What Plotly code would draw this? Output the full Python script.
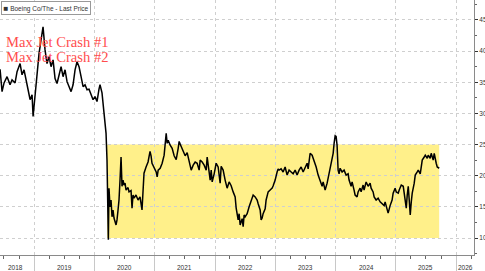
import plotly.graph_objects as go
import pandas as pd

# ---- data (decimal years, price) ----
year_frac = [
    2018.431, 2018.464, 2018.497, 2018.547, 2018.597, 2018.630, 2018.680, 2018.713, 2018.763, 2018.796,
    2018.829, 2018.863, 2018.896, 2018.929, 2018.962, 2018.979, 2019.012, 2019.045, 2019.078, 2019.112,
    2019.145, 2019.178, 2019.211, 2019.244, 2019.278, 2019.311, 2019.344, 2019.377, 2019.410, 2019.444,
    2019.477, 2019.510, 2019.543, 2019.576, 2019.610, 2019.643, 2019.676, 2019.709, 2019.742, 2019.776,
    2019.809, 2019.842, 2019.875, 2019.908, 2019.942, 2019.975, 2020.008, 2020.041, 2020.074, 2020.091,
    2020.124, 2020.141, 2020.157, 2020.174, 2020.191, 2020.207, 2020.216, 2020.229, 2020.240, 2020.257,
    2020.274, 2020.290, 2020.307, 2020.323, 2020.357, 2020.373, 2020.390, 2020.406, 2020.423, 2020.440,
    2020.456, 2020.473, 2020.489, 2020.506, 2020.523, 2020.556, 2020.572, 2020.606, 2020.622, 2020.639,
    2020.655, 2020.688, 2020.722, 2020.755, 2020.788, 2020.805, 2020.821, 2020.855, 2020.888, 2020.921,
    2020.938, 2020.954, 2020.987, 2021.021, 2021.037, 2021.054, 2021.087, 2021.120, 2021.153, 2021.187,
    2021.203, 2021.220, 2021.253, 2021.286, 2021.319, 2021.353, 2021.386, 2021.402, 2021.436, 2021.469,
    2021.502, 2021.535, 2021.568, 2021.602, 2021.635, 2021.668, 2021.701, 2021.734, 2021.751, 2021.784,
    2021.817, 2021.851, 2021.867, 2021.884, 2021.917, 2021.934, 2021.950, 2021.983, 2022.017, 2022.050,
    2022.083, 2022.100, 2022.133, 2022.166, 2022.199, 2022.232, 2022.266, 2022.299, 2022.332, 2022.349,
    2022.365, 2022.382, 2022.398, 2022.415, 2022.432, 2022.448, 2022.465, 2022.481, 2022.498, 2022.531,
    2022.564, 2022.597, 2022.631, 2022.664, 2022.697, 2022.714, 2022.747, 2022.763, 2022.780, 2022.796,
    2022.830, 2022.846, 2022.880, 2022.913, 2022.946, 2022.963, 2022.996, 2023.029, 2023.046, 2023.062,
    2023.095, 2023.129, 2023.162, 2023.195, 2023.228, 2023.262, 2023.295, 2023.328, 2023.361, 2023.394,
    2023.428, 2023.461, 2023.494, 2023.527, 2023.544, 2023.577, 2023.610, 2023.643, 2023.677, 2023.710,
    2023.743, 2023.776, 2023.793, 2023.809, 2023.826, 2023.859, 2023.892, 2023.925, 2023.959, 2023.975,
    2023.992, 2024.009, 2024.025, 2024.042, 2024.058, 2024.075, 2024.108, 2024.141, 2024.175, 2024.208,
    2024.224, 2024.258, 2024.274, 2024.307, 2024.324, 2024.357, 2024.374, 2024.407, 2024.424, 2024.457,
    2024.473, 2024.507, 2024.540, 2024.573, 2024.590, 2024.623, 2024.640, 2024.673, 2024.706, 2024.739,
    2024.773, 2024.806, 2024.822, 2024.855, 2024.872, 2024.905, 2024.938, 2024.955, 2024.988, 2025.005,
    2025.038, 2025.054, 2025.088, 2025.121, 2025.137, 2025.154, 2025.171, 2025.187, 2025.204, 2025.220,
    2025.237, 2025.254, 2025.270, 2025.303, 2025.320, 2025.353, 2025.370, 2025.403, 2025.420, 2025.436,
    2025.469, 2025.486, 2025.519, 2025.535, 2025.568, 2025.585, 2025.618, 2025.635, 2025.668, 2025.685,
    2025.718,
]
price = [
    37.1, 33.5, 34.9, 35.9, 34.6, 35.4, 34.9, 36.7, 38.0, 36.2,
    37.0, 35.1, 33.8, 32.2, 33.0, 29.5, 32.7, 37.0, 39.6, 41.8,
    43.9, 40.2, 38.0, 39.1, 37.5, 38.6, 35.6, 34.8, 36.4, 37.5,
    35.9, 37.0, 35.1, 34.3, 33.5, 34.6, 37.0, 38.3, 37.5, 35.9,
    34.3, 34.6, 33.8, 33.9, 33.0, 32.2, 32.7, 31.9, 33.9, 34.6,
    33.3, 31.7, 31.1, 29.5, 26.8, 22.5, 16.0, 9.7, 18.0, 15.0,
    16.1, 13.4, 14.5, 13.2, 12.1, 12.9, 14.5, 16.1, 19.3, 23.0,
    18.3, 19.3, 18.5, 18.8, 17.7, 18.1, 17.4, 17.6, 14.8, 16.9,
    16.4, 16.9, 16.1, 16.6, 14.5, 17.7, 20.4, 21.4, 22.2, 23.9,
    23.2, 22.0, 21.4, 20.6, 19.8, 20.9, 21.2, 22.0, 23.3, 26.8,
    25.2, 25.7, 24.9, 24.4, 23.2, 22.6, 24.4, 25.5, 24.7, 24.0,
    23.2, 23.7, 22.0, 20.9, 21.7, 22.2, 22.0, 20.9, 22.5, 22.2,
    21.7, 20.9, 23.0, 21.4, 19.3, 20.9, 19.0, 20.3, 22.0, 21.4,
    18.8, 21.5, 20.9, 19.3, 18.0, 19.0, 18.4, 17.4, 16.6, 14.8,
    13.7, 12.9, 13.9, 12.1, 12.6, 13.1, 11.8, 13.7, 13.4, 13.9,
    15.0, 16.1, 16.9, 16.6, 16.1, 15.5, 14.5, 12.9, 13.2, 13.9,
    14.7, 16.1, 17.4, 17.7, 18.0, 18.4, 19.3, 20.6, 21.1, 20.9,
    21.1, 20.6, 21.4, 20.1, 20.9, 20.6, 20.3, 20.9, 20.1, 20.9,
    21.4, 20.6, 21.4, 22.0, 21.1, 23.6, 23.3, 22.5, 21.4, 20.1,
    19.0, 18.3, 19.0, 18.3, 17.7, 18.8, 20.3, 22.0, 23.6, 25.2,
    26.4, 26.3, 24.9, 20.9, 20.3, 21.2, 20.6, 20.9, 20.1, 20.3,
    19.3, 18.3, 19.0, 17.7, 16.9, 16.6, 17.4, 18.0, 17.4, 18.5,
    17.7, 19.0, 18.3, 18.8, 18.0, 17.4, 16.6, 16.1, 16.4, 15.8,
    15.5, 15.2, 15.8, 14.8, 14.0, 15.2, 16.1, 17.2, 18.0, 17.4,
    17.2, 17.7, 18.5, 18.3, 16.9, 16.1, 14.8, 16.9, 18.3, 16.1,
    13.7, 15.8, 17.2, 18.8, 20.1, 20.6, 20.9, 20.3, 21.4, 22.5,
    23.0, 23.3, 22.8, 23.3, 22.8, 23.6, 22.5, 23.6, 22.0, 21.4,
    21.2,
]

series_name = "Boeing Co/The - Last Price"
annotation_texts = ["Max Jet Crash #1", "Max Jet Crash #2"]

# highlighted band
band_start = "2020-03-17"
band_end = "2025-09-20"
band_low = 10
band_high = 25

# axes
x_range = ["2018-06-07", "2026-04-19"]
y_range = [7.27, 48.21]
year_boundaries = ["2019-01-01", "2020-01-01", "2021-01-01", "2022-01-01",
                   "2023-01-01", "2024-01-01", "2025-01-01", "2026-01-01"]
year_labels = ["2018", "2019", "2020", "2021", "2022", "2023", "2024", "2025", "2026"]
year_label_pos = ["2018-09-06", "2019-07-05", "2020-07-01", "2021-07-01", "2022-07-07",
                  "2023-07-05", "2024-07-05", "2025-07-01", "2026-02-24"]
y_ticks = [10, 15, 20, 25, 30, 35, 40, 45]
y_minor = [7.5, 12.5, 17.5, 22.5, 27.5, 32.5, 37.5, 42.5, 47.5]


def to_date(t):
    y = int(t)
    return pd.Timestamp(f"{y}-01-01") + pd.Timedelta(days=(t - y) * 365.25)


dates = [to_date(t) for t in year_frac]

fig = go.Figure()
fig.add_trace(go.Scatter(x=dates, y=price, mode="lines",
                         line=dict(color="black", width=1.5),
                         name=series_name, showlegend=False,
                         hoverinfo="skip"))

fig.add_shape(type="rect", xref="x", yref="y",
              x0=band_start, x1=band_end, y0=band_low, y1=band_high,
              fillcolor="#FFF08A", line=dict(width=0), layer="below")

annotations = []
# legend box
annotations.append(dict(xref="paper", yref="paper", x=0.002, y=0.998,
                        xanchor="left", yanchor="top", showarrow=False,
                        text="<span style='font-size:8px'>\u25A0</span> " + series_name,
                        font=dict(family="Liberation Sans", size=6.5, color="#333"),
                        bgcolor="white", bordercolor="#999", borderwidth=1, borderpad=1.5))
# crash annotations
for i, txt in enumerate(annotation_texts):
    annotations.append(dict(xref="paper", yref="paper", x=0.008, y=1 - (42 + 15.3 * i) / 255,
                            xanchor="left", yanchor="middle", showarrow=False,
                            text=txt,
                            font=dict(family="Liberation Serif", size=14.6, color="#ff4d4d")))
# year labels
for lab, pos in zip(year_labels, year_label_pos):
    annotations.append(dict(xref="x", yref="paper", x=pos, y=-0.049,
                            xanchor="center", yanchor="middle", showarrow=False,
                            text=lab,
                            font=dict(family="Liberation Sans", size=6.5, color="#333")))

fig.update_layout(
    width=485, height=271,
    margin=dict(l=0, r=11, t=0, b=16, autoexpand=False),
    paper_bgcolor="white", plot_bgcolor="white",
    showlegend=False,
    annotations=annotations,
    xaxis=dict(
        type="date", range=x_range, autorange=False,
        tickmode="array", tickvals=year_boundaries, showticklabels=False,
        ticks="outside", ticklen=16, tickcolor="#c8c8c8", tickwidth=1,
        showgrid=True, gridcolor="#cfcfcf", griddash="dot", gridwidth=1,
        showline=True, linecolor="#8a8a8a", linewidth=1,
        zeroline=False,
        minor=dict(dtick="M3", tick0="2018-01-01", ticks="outside", ticklen=3,
                   tickcolor="#666", showgrid=False),
    ),
    yaxis=dict(
        side="right", range=y_range, autorange=False,
        tickmode="array", tickvals=y_ticks,
        ticks="outside", ticklen=3, tickcolor="#333", tickwidth=1,
        tickfont=dict(family="Liberation Sans", size=6.5, color="#333"),
        showgrid=True, gridcolor="#cfcfcf", griddash="dot", gridwidth=1,
        showline=True, linecolor="#8a8a8a", linewidth=1,
        zeroline=False,
        minor=dict(tickmode="array", tickvals=y_minor, ticks="outside", ticklen=2,
                   tickcolor="#666", showgrid=False),
    ),
)

fig.write_html("out.html")
